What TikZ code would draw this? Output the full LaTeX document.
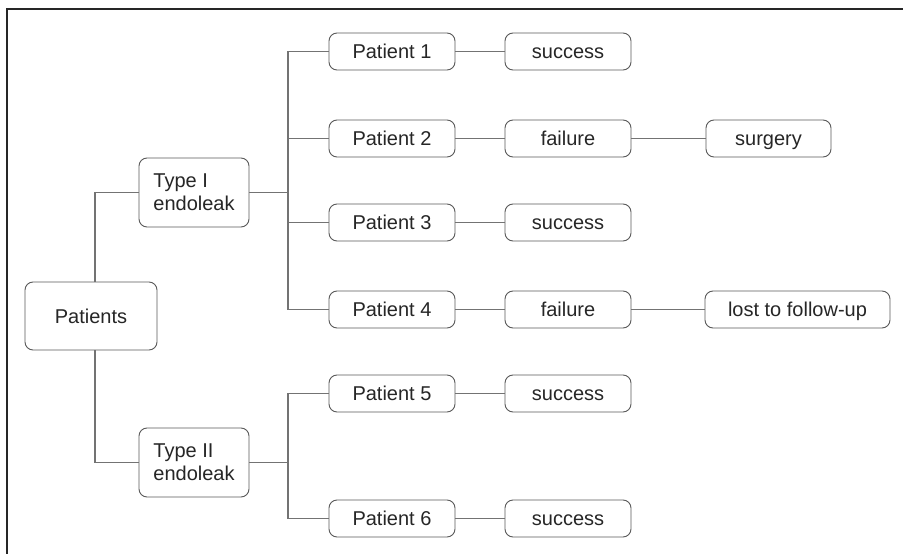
\documentclass[tikz,border=0pt]{standalone}
\usepackage{fontspec}
\setmainfont{Liberation Sans}
\begin{document}
\begin{tikzpicture}[x=1pt,y=1pt,
  box/.style={draw=black!65, line width=0.9pt, rounded corners=8pt, fill=white,
    font=\fontsize{20}{23}\selectfont, text=black!85, inner sep=0pt, align=left},
  pbox/.style={box, minimum width=126pt, minimum height=37pt, text height=14.3pt, text depth=0pt},
  link/.style={draw=black!55, line width=1.1pt}]
\useasboundingbox (0,0) rectangle (903,-554);
\draw[black!85, line width=1.2pt] (7,-554) -- (7,-9) -- (903,-9);

\node[box, minimum width=132pt, minimum height=68pt, text height=14.3pt, text depth=0pt] (P) at (91,-316) {Patients};
\node[box, minimum width=110pt, minimum height=69pt] (T1) at (194,-192.5) {Type I\\endoleak};
\node[box, minimum width=110pt, minimum height=69pt] (T2) at (194,-462.5) {Type II\\endoleak};

\node[pbox] (P1) at (392,-51.5) {Patient 1};
\node[pbox] (P2) at (392,-138.5) {Patient 2};
\node[pbox] (P3) at (392,-222.5) {Patient 3};
\node[pbox] (P4) at (392,-309.5) {Patient 4};
\node[pbox] (P5) at (392,-393.5) {Patient 5};
\node[pbox] (P6) at (392,-518.5) {Patient 6};

\node[pbox] (S1) at (568,-51.5) {success};
\node[pbox] (F2) at (568,-138.5) {failure};
\node[pbox] (S3) at (568,-222.5) {success};
\node[pbox] (F4) at (568,-309.5) {failure};
\node[pbox] (S5) at (568,-393.5) {success};
\node[pbox] (S6) at (568,-518.5) {success};

\node[pbox, minimum width=125pt] (SU) at (768.5,-138.5) {surgery};
\node[pbox, minimum width=185pt] (LF) at (797.5,-309.5) {lost to follow-up};

\coordinate (j1) at (288,-192.5);
\coordinate (j2) at (288,-460);

% Patients to types
\draw[link] ([xshift=4pt]P.north) |- (T1.west);
\draw[link] ([xshift=4pt]P.south) |- (T2.west);

% Type I trunk
\draw[link] (T1.east) -- (j1);
\draw[link] (P1.west) -- (P1.west -| j1) -- (P4.west -| j1) -- (P4.west);
\draw[link] (P2.west) -- (P2.west -| j1);
\draw[link] (P3.west) -- (P3.west -| j1);

% Type II trunk
\draw[link] (T2.east) -- (T2.east -| j2);
\draw[link] (P5.west) -- (P5.west -| j2) -- (P6.west -| j2) -- (P6.west);

% outcomes
\draw[link] (P1) -- (S1);
\draw[link] (P2) -- (F2);
\draw[link] (P3) -- (S3);
\draw[link] (P4) -- (F4);
\draw[link] (P5) -- (S5);
\draw[link] (P6) -- (S6);
\draw[link] (F2) -- (SU);
\draw[link] (F4) -- (LF);
\end{tikzpicture}
\end{document}
